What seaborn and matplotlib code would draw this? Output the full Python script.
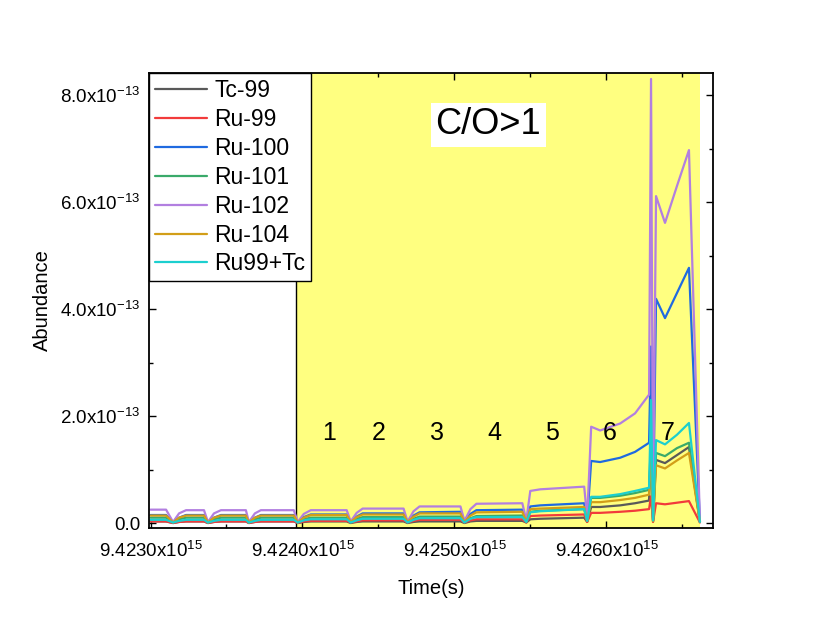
import numpy as np
import pandas as pd
import matplotlib
matplotlib.use("Agg")
import matplotlib.pyplot as plt
import seaborn as sns
from matplotlib.ticker import FixedLocator, FuncFormatter

# ==========================================
# DATA (time in units of 1e15 s, abundance in units of 1e-13)
# ==========================================

time_1e15 = [
    9.4230000, 9.4231024, 9.4231484, 9.4231878, 9.4232338, 9.4233519, 9.4233782, 9.4234176,
    9.4234636, 9.4236277, 9.4236474, 9.4236868, 9.4237262, 9.4239429, 9.4239692, 9.4240085,
    9.4240545, 9.4242909, 9.4243172, 9.4243565, 9.4243959, 9.4246651, 9.4246914, 9.4247308,
    9.4247702, 9.4250394, 9.4250657, 9.4251051, 9.4251445, 9.4254465, 9.4254728, 9.4254990,
    9.4255646, 9.4258536, 9.4258733, 9.4258996, 9.4259586, 9.4260900, 9.4261885, 9.4262804,
    9.4262935, 9.4263067, 9.4263264, 9.4263854, 9.4264642, 9.4265430, 9.4266152,
]

tc99 = [0.03, 0.03, 0.00, 0.02, 0.03, 0.03, 0.00, 0.02, 0.03, 0.03, 0.00, 0.02, 0.03, 0.03, 0.00, 0.02,
        0.03, 0.03, 0.00, 0.02, 0.03, 0.03, 0.00, 0.02, 0.03, 0.03, 0.00, 0.03, 0.04, 0.04,
        0.01, 0.07, 0.08, 0.10, 0.02, 0.30, 0.30, 0.33, 0.37, 0.42, 1.50, 0.03, 1.18, 1.12, 1.27, 1.42, 0.02]
ru99 = [0.03, 0.03, 0.00, 0.02, 0.03, 0.03, 0.00, 0.02, 0.03, 0.03, 0.00, 0.02, 0.03, 0.03, 0.00, 0.03,
        0.04, 0.04, 0.01, 0.03, 0.05, 0.05, 0.01, 0.04, 0.06, 0.06, 0.01, 0.05, 0.07, 0.07,
        0.01, 0.13, 0.14, 0.16, 0.02, 0.19, 0.19, 0.21, 0.23, 0.26, 0.50, 0.02, 0.37, 0.35, 0.38, 0.41, 0.01]
ru100 = [0.15, 0.15, 0.01, 0.10, 0.15, 0.15, 0.01, 0.10, 0.15, 0.15, 0.01, 0.10, 0.15, 0.15, 0.01, 0.11,
         0.16, 0.16, 0.02, 0.12, 0.18, 0.18, 0.02, 0.14, 0.20, 0.21, 0.03, 0.17, 0.24, 0.25,
         0.03, 0.31, 0.33, 0.37, 0.05, 1.16, 1.14, 1.22, 1.33, 1.50, 3.30, 0.06, 4.19, 3.83, 4.30, 4.77, 0.02]
ru101 = [0.10, 0.10, 0.01, 0.07, 0.10, 0.10, 0.01, 0.07, 0.10, 0.10, 0.01, 0.07, 0.10, 0.10, 0.01, 0.07,
         0.10, 0.10, 0.01, 0.08, 0.11, 0.11, 0.02, 0.08, 0.12, 0.12, 0.02, 0.09, 0.13, 0.14,
         0.02, 0.21, 0.23, 0.26, 0.04, 0.47, 0.47, 0.51, 0.56, 0.62, 1.60, 0.04, 1.31, 1.25, 1.40, 1.50, 0.02]
ru102 = [0.25, 0.25, 0.02, 0.18, 0.24, 0.24, 0.02, 0.18, 0.24, 0.24, 0.02, 0.18, 0.24, 0.24, 0.02, 0.17,
         0.24, 0.24, 0.03, 0.19, 0.27, 0.27, 0.03, 0.22, 0.31, 0.31, 0.04, 0.26, 0.36, 0.37,
         0.05, 0.60, 0.63, 0.68, 0.10, 1.80, 1.73, 1.86, 2.05, 2.40, 8.30, 0.10, 6.11, 5.61, 6.30, 6.97, 0.02]
ru104 = [0.14, 0.14, 0.01, 0.10, 0.14, 0.14, 0.01, 0.10, 0.14, 0.14, 0.01, 0.10, 0.14, 0.14, 0.01, 0.10,
         0.15, 0.15, 0.02, 0.11, 0.16, 0.16, 0.02, 0.12, 0.18, 0.18, 0.02, 0.14, 0.20, 0.21,
         0.03, 0.26, 0.27, 0.30, 0.04, 0.39, 0.39, 0.43, 0.47, 0.53, 1.40, 0.04, 1.08, 1.02, 1.17, 1.31, 0.02]
ru99_tc = [0.06, 0.06, 0.01, 0.04, 0.06, 0.06, 0.01, 0.04, 0.06, 0.06, 0.01, 0.04, 0.06, 0.06, 0.01, 0.05,
           0.07, 0.07, 0.01, 0.05, 0.08, 0.08, 0.01, 0.06, 0.09, 0.09, 0.01, 0.08, 0.11, 0.11,
           0.02, 0.20, 0.22, 0.26, 0.04, 0.49, 0.49, 0.54, 0.60, 0.66, 2.30, 0.05, 1.55, 1.47, 1.65, 1.87, 0.02]

isotopes = ["Tc-99", "Ru-99", "Ru-100", "Ru-101", "Ru-102", "Ru-104", "Ru99+Tc"]
colors = ["#595959", "#f23b3b", "#1f6ae0", "#3aaa6a", "#b27fe0", "#d29e18", "#1ccfcf"]

x_tick_values = [9.4230, 9.4240, 9.4250, 9.4260]
y_tick_values = [0.0, 2.0, 4.0, 6.0, 8.0]

region_start = 9.423956   # C/O>1 region
region_end = 9.4266152
stage_labels = ["1", "2", "3", "4", "5", "6", "7"]
stage_x = [9.4241727, 9.4245011, 9.4248819, 9.4252626, 9.4256435, 9.4260243, 9.4264051]

# ==========================================
# BUILD TABLE
# ==========================================

df = pd.DataFrame({
    "Time": np.array(time_1e15) * 1e15,
    "Tc-99": np.array(tc99) * 1e-13,
    "Ru-99": np.array(ru99) * 1e-13,
    "Ru-100": np.array(ru100) * 1e-13,
    "Ru-101": np.array(ru101) * 1e-13,
    "Ru-102": np.array(ru102) * 1e-13,
    "Ru-104": np.array(ru104) * 1e-13,
    "Ru99+Tc": np.array(ru99_tc) * 1e-13,
})
long_df = df.melt(id_vars="Time", var_name="Isotope", value_name="Abundance")

# ==========================================
# PLOT
# ==========================================

sns.set_style("ticks")
plt.rcParams["font.family"] = ["Liberation Sans", "DejaVu Sans"]
plt.rcParams["mathtext.fontset"] = "custom"
plt.rcParams["mathtext.rm"] = "Liberation Sans"
plt.rcParams["mathtext.it"] = "Liberation Sans"
for key in ["text.color", "axes.labelcolor", "xtick.color", "ytick.color"]:
    plt.rcParams[key] = "black"

fig = plt.figure(figsize=(8.3, 6.36), dpi=100)
ax = fig.add_axes([0.1795, 0.1698, 0.6795, 0.7154])

ax.axvspan(region_start * 1e15, region_end * 1e15, color="#ffff80", lw=0, zorder=0)
ax.axvline(region_start * 1e15, color="black", lw=1, zorder=1)

sns.lineplot(
    data=long_df, x="Time", y="Abundance", hue="Isotope",
    hue_order=isotopes, palette=dict(zip(isotopes, colors)),
    estimator=None, sort=False, linewidth=1.6, ax=ax
)

ax.set_xlim(9.42299e15, 9.426701e15)
ax.set_ylim(-0.093e-13, 8.411e-13)

ax.xaxis.set_major_locator(FixedLocator([v * 1e15 for v in x_tick_values]))
ax.xaxis.set_minor_locator(FixedLocator([(v + 0.0005) * 1e15 for v in x_tick_values]))
ax.xaxis.set_major_formatter(FuncFormatter(lambda v, p: f"{v / 1e15:.4f}x10$^{{15}}$"))

ax.yaxis.set_major_locator(FixedLocator([v * 1e-13 for v in y_tick_values]))
ax.yaxis.set_minor_locator(FixedLocator([(v + 1.0) * 1e-13 for v in y_tick_values]))
ax.yaxis.set_major_formatter(FuncFormatter(
    lambda v, p: "0.0" if abs(v) < 1e-20 else f"{v / 1e-13:.1f}x10$^{{-13}}$"))

ax.tick_params(which="both", direction="in", top=True, right=True, width=1, labelsize=13.5)
ax.tick_params(axis="x", which="both", pad=9)
ax.tick_params(axis="y", which="both", pad=6)
ax.tick_params(which="major", length=5)
ax.tick_params(which="minor", length=3)
for s in ax.spines.values():
    s.set_linewidth(1.3)
    s.set_color("black")

ax.set_xlabel("Time(s)", fontsize=14.5, labelpad=13)
ax.set_ylabel("Abundance", fontsize=14.5, labelpad=6)

ax.text(9.4252233e15, 7.44e-13, "C/O>1", fontsize=26, ha="center", va="center",
        bbox=dict(facecolor="white", edgecolor="none", pad=3))
for lab, xs in zip(stage_labels, stage_x):
    ax.text(xs * 1e15, 1.68e-13, lab, fontsize=18, ha="center", va="center")

sns.move_legend(
    ax, "upper left", title=None, frameon=True, fancybox=False, framealpha=1,
    edgecolor="black", fontsize=16.5, labelspacing=0.26, handlelength=2.3,
    handletextpad=0.3, borderpad=0.25, borderaxespad=0
)
ax.get_legend().get_frame().set_linewidth(1)

fig.savefig("out.png", dpi=100, facecolor="white")
